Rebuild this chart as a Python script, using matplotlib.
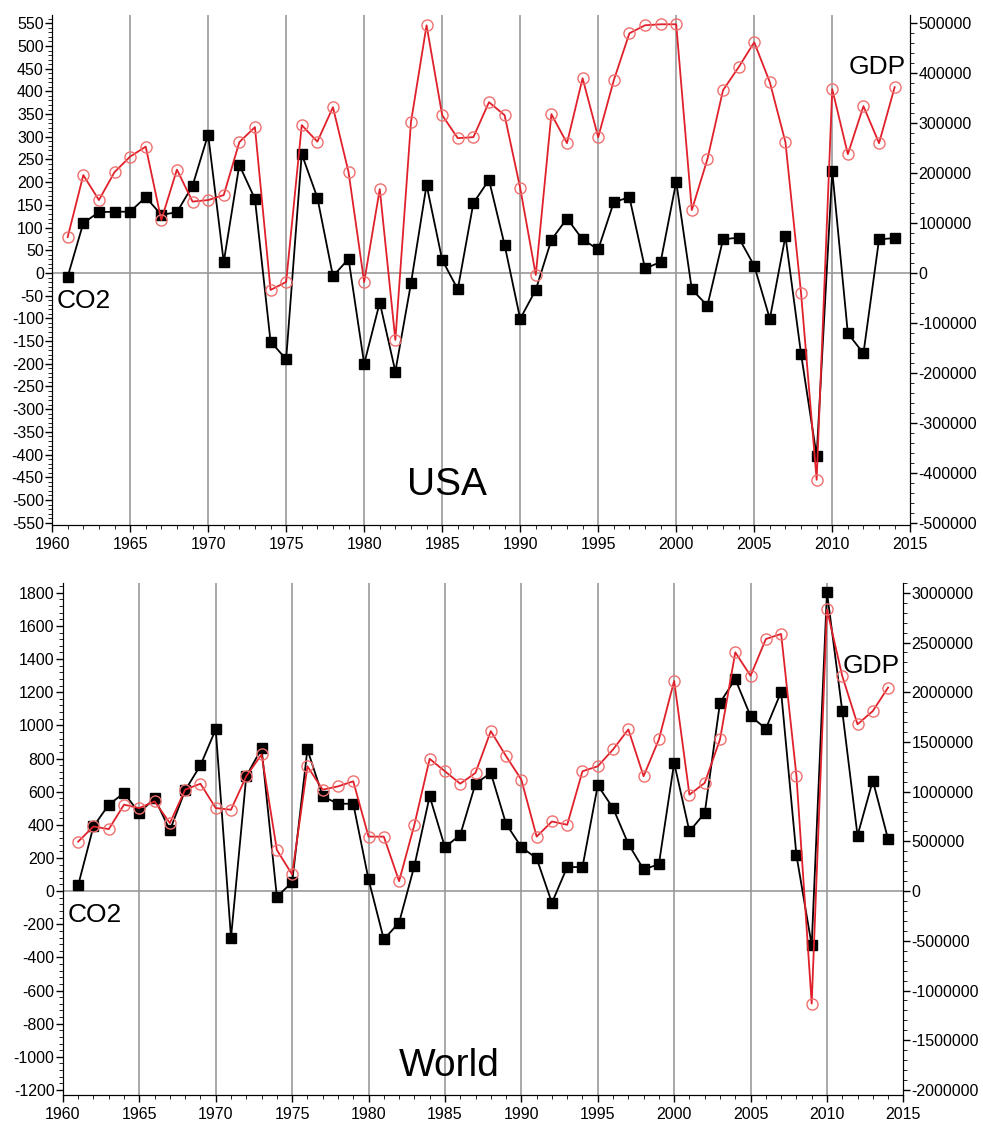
import matplotlib
matplotlib.use('Agg')
import matplotlib.pyplot as plt
from matplotlib.ticker import MultipleLocator, FormatStrFormatter

plt.rcParams['font.family'] = ['Liberation Sans', 'DejaVu Sans']
plt.rcParams['axes.unicode_minus'] = False

years = list(range(1961, 2015))

# USA: annual change in CO2 emissions (left axis) and GDP (right axis)
usa_co2 = [-8, 110, 134, 135, 135, 167, 128, 134, 192, 305,
           24, 238, 163, -151, -190, 262, 166, -7, 31, -200,
           -65, -217, -23, 194, 29, -36, 154, 205, 62, -101,
           -37, 73, 120, 74, 52, 156, 167, 10, 24, 201,
           -36, -72, 74, 78, 16, -101, 81, -178, -403, 225,
           -133, -177, 74, 77]
usa_gdp = [72000, 196000, 146000, 202000, 233000, 253000, 106000, 207000, 143000, 146000,
           156000, 262000, 292000, -34000, -18000, 296000, 263000, 332000, 202000, -18000,
           168000, -134000, 302000, 496000, 316000, 270000, 272000, 342000, 316000, 170000,
           -4000, 318000, 260000, 390000, 272000, 386000, 480000, 496000, 498000, 498000,
           126000, 228000, 366000, 412000, 462000, 382000, 262000, -40000, -414000, 368000,
           238000, 334000, 260000, 372000]

# World
world_co2 = [36, 390, 521, 592, 471, 562, 366, 608, 759, 976,
             -281, 693, 861, -34, 53, 855, 572, 527, 527, 71,
             -291, -190, 152, 572, 265, 339, 648, 713, 406, 265,
             198, -71, 145, 145, 638, 501, 285, 131, 162, 774,
             360, 471, 1137, 1279, 1056, 980, 1202, 218, -327, 1804,
             1087, 335, 667, 313]
world_gdp = [498000, 650000, 623000, 869000, 835000, 902000, 684000, 1020000, 1080000, 835000,
             818000, 1155000, 1374000, 414000, 167000, 1255000, 1020000, 1053000, 1104000, 548000,
             548000, 100000, 667000, 1330000, 1205000, 1080000, 1189000, 1609000, 1357000, 1121000,
             548000, 700000, 667000, 1205000, 1255000, 1424000, 1626000, 1155000, 1525000, 2114000,
             970000, 1088000, 1525000, 2401000, 2165000, 2535000, 2586000, 1162000, -1131000, 2833000,
             2163000, 1677000, 1811000, 2047000]

panels = [
    # rect, co2, gdp, ylim left, scale, major/minor left, major/minor right, name, name y, GDP y, CO2 y
    ([0.053, 0.5346, 0.873, 0.452], usa_co2, usa_gdp, (-555, 568), 500000 / 550, 50, 10, 100000, 20000,
     'USA', -466, 453, -62),
    ([0.064, 0.0293, 0.855, 0.454], world_co2, world_gdp, (-1230, 1860), 3000000 / 1800, 200, 40, 500000, 100000,
     'World', -1055, 1358, -145),
]

fig = plt.figure(figsize=(9.83, 11.28), dpi=100)

for rect, co2, gdp, ylim, scale, maj, mnr, rmaj, rmnr, name, name_y, gdp_y, co2_y in panels:
    ax = fig.add_axes(rect)
    for yr in range(1965, 2015, 5):
        ax.axvline(yr, color='#9a9a9a', lw=1.2, zorder=0)
    ax.axhline(0, color='#9a9a9a', lw=1.2, zorder=0)
    ax.plot(years, co2, color='black', lw=1.3, marker='s', ms=7, zorder=3)
    ax.set_xlim(1960, 2015)
    ax.set_ylim(*ylim)
    ax.xaxis.set_major_locator(MultipleLocator(5))
    ax.xaxis.set_minor_locator(MultipleLocator(1))
    ax.yaxis.set_major_locator(MultipleLocator(maj))
    ax.yaxis.set_minor_locator(MultipleLocator(mnr))
    ax.spines['top'].set_visible(False)
    ax.tick_params(labelsize=11.5, length=5, pad=1, width=1)
    ax.tick_params(which='minor', length=3)
    ax.tick_params(axis='x', pad=4)
    yt = [t for t in ax.get_yticks() if ylim[0] <= t <= ylim[1]]
    ax.set_yticks(yt)

    ax2 = ax.twinx()
    ax2.plot(years, gdp, color='#e0202a', lw=1.3, marker='o', ms=8,
             mfc='none', mec='#f07070', mew=1.0, zorder=3)
    ax2.set_ylim(ylim[0] * scale, ylim[1] * scale)
    ax2.yaxis.set_major_locator(MultipleLocator(rmaj))
    ax2.yaxis.set_minor_locator(MultipleLocator(rmnr))
    ax2.yaxis.set_major_formatter(FormatStrFormatter('%d'))
    ax2.spines['top'].set_visible(False)
    ax2.tick_params(labelsize=11.5, length=5, pad=1, width=1)
    ax2.tick_params(which='minor', length=3)
    lo, hi = ax2.get_ylim()
    ax2.set_yticks([t for t in ax2.get_yticks() if lo <= t <= hi])
    ax2.set_ylim(lo, hi)

    ax.text(1960.3, co2_y, 'CO2', fontsize=19, va='center', ha='left', zorder=5)
    ax.text(1985.3, name_y, name, fontsize=28, va='center', ha='center', zorder=5)
    ax.text(2012.9, gdp_y, 'GDP', fontsize=19, va='center', ha='center', zorder=5)

fig.savefig('out.png', dpi=100)
